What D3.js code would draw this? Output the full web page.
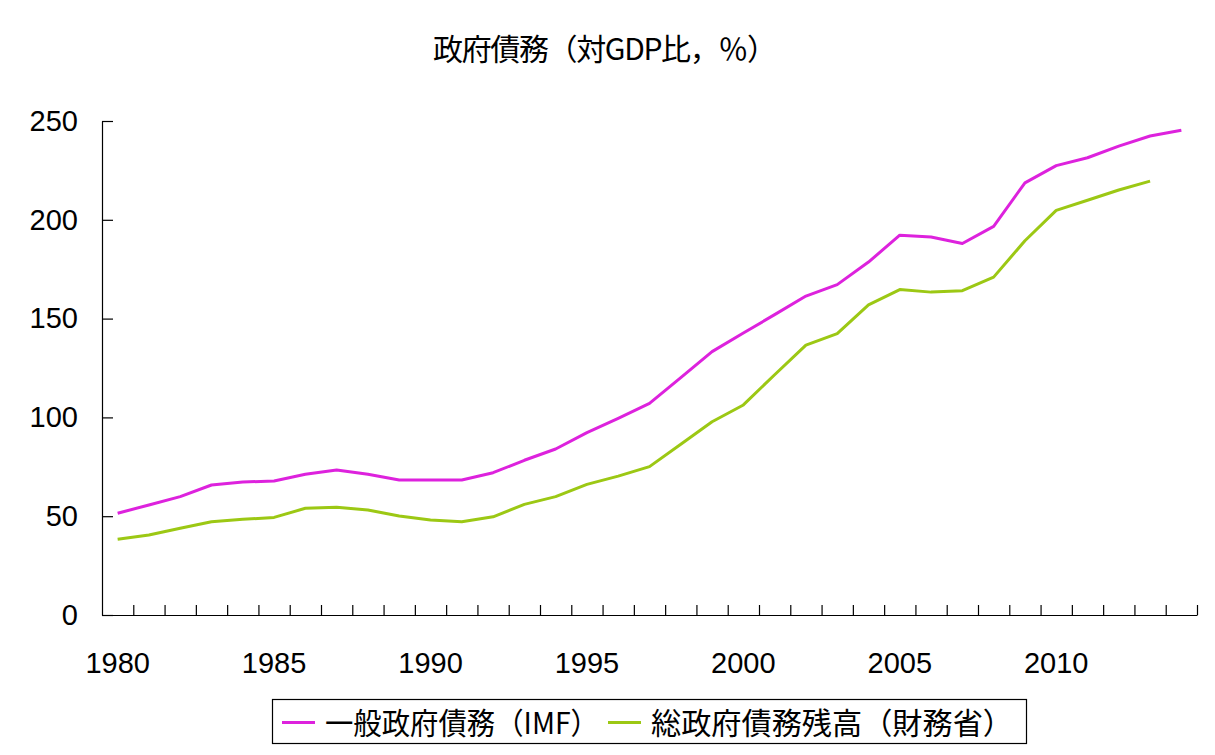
<!DOCTYPE html>
<html>
<head>
<meta charset="utf-8">
<script src="https://cdn.jsdelivr.net/npm/d3@7"></script>
<style>
  html, body { margin: 0; padding: 0; background: white; }
</style>
</head>
<body>
<div id="chart"></div>
<script>
const years = d3.range(1980, 2015);
const imfDebt = [51.5, 55.7, 59.9, 65.8, 67.3, 67.8, 71.2, 73.4, 71.2, 68.3,
  68.3, 68.3, 72.0, 78.3, 84.0, 92.3, 99.5, 107.1, 120.1, 133.3,
  142.7, 152.0, 161.4, 167.2, 178.6, 192.2, 191.3, 188.0, 196.7, 218.7,
  227.4, 231.4, 237.3, 242.4, 245.3];
const mofDebt = [38.3, 40.5, 43.9, 47.2, 48.4, 49.4, 54.0, 54.5, 53.1, 50.1,
  48.1, 47.2, 49.7, 56.0, 59.9, 66.1, 70.3, 75.1, 86.4, 97.8,
  106.3, 121.6, 136.6, 142.4, 156.9, 164.7, 163.4, 164.1, 171.0, 189.4,
  204.8, 209.9, 215.1, 219.6, null];
const yearLabels = [1980, 1985, 1990, 1995, 2000, 2005, 2010];
const yTicks = [0, 50, 100, 150, 200, 250];
const seriesNames = ['一般政府債務（IMF）', '総政府債務残高（財務省）'];
const seriesColors = ['#dd22dd', '#9cc814'];
const title = '政府債務（対GDP比，％）';

const width = 1215, height = 755;
const margin = { left: 102, right: 18, top: 121, bottom: 140 };
const jpFont = '"Noto Sans CJK JP", sans-serif';
const numFont = '"Liberation Sans", Arial, sans-serif';

const svg = d3.select('#chart')
  .append('svg')
  .attr('width', width)
  .attr('height', height)
  .style('background-color', 'white');

const x = d3.scaleBand()
  .domain(years)
  .range([margin.left, width - margin.right])
  .padding(0);

// boundaries between categories, for the excel style ticks
const xEdge = d3.scaleLinear()
  .domain([0, years.length])
  .range([margin.left, width - margin.right]);

const y = d3.scaleLinear()
  .domain([0, 250])
  .range([height - margin.bottom, margin.top]);

svg.append('text')
  .attr('x', 433)
  .attr('y', 47)
  .attr('dominant-baseline', 'central')
  .attr('textLength', 344)
  .attr('lengthAdjust', 'spacing')
  .style('font-family', jpFont)
  .style('font-size', '30px')
  .text(title);

// y axis
const yAxis = svg.append('g')
  .attr('transform', `translate(${margin.left},0)`)
  .call(d3.axisLeft(y).tickValues(yTicks).tickSize(-11).tickPadding(24).tickSizeOuter(0));
yAxis.selectAll('text')
  .style('font-family', numFont)
  .style('font-size', '29px')
  .attr('fill', 'black');

// x axis: ticks between years
svg.append('g')
  .attr('transform', `translate(0,${y(0)})`)
  .call(d3.axisBottom(xEdge).tickValues(d3.range(1, years.length + 1)).tickSize(-10).tickFormat('').tickSizeOuter(0));

// x axis labels under every 5th year
const xLabels = svg.append('g')
  .attr('transform', `translate(0,${y(0)})`)
  .call(d3.axisBottom(x).tickValues(yearLabels).tickSize(0).tickPadding(37));
xLabels.select('.domain').remove();
xLabels.selectAll('text')
  .style('font-family', numFont)
  .style('font-size', '29px')
  .attr('fill', 'black');

svg.selectAll('.domain, .tick line')
  .attr('stroke', 'black')
  .attr('stroke-width', 1.2);

const line = d3.line()
  .defined(d => d.v != null)
  .x(d => x(d.year) + x.bandwidth() / 2)
  .y(d => y(d.v));

[imfDebt, mofDebt].forEach((vals, i) => {
  svg.append('path')
    .datum(years.map((yr, j) => ({ year: yr, v: vals[j] })))
    .attr('fill', 'none')
    .attr('stroke', seriesColors[i])
    .attr('stroke-width', 3)
    .attr('stroke-linejoin', 'round')
    .attr('d', line);
});

// legend
const legend = svg.append('g');
legend.append('rect')
  .attr('x', 272.5)
  .attr('y', 699.5)
  .attr('width', 754)
  .attr('height', 44)
  .attr('fill', 'white')
  .attr('stroke', 'black')
  .attr('stroke-width', 1.2);

const legendX = [282, 608];
const legendTextLen = [274, 362];
seriesNames.forEach((name, i) => {
  legend.append('line')
    .attr('x1', legendX[i])
    .attr('x2', legendX[i] + 33)
    .attr('y1', 722.5)
    .attr('y2', 722.5)
    .attr('stroke', seriesColors[i])
    .attr('stroke-width', 3);
  legend.append('text')
    .attr('x', legendX[i] + 43)
    .attr('y', 721)
    .attr('dominant-baseline', 'central')
    .attr('textLength', legendTextLen[i])
    .attr('lengthAdjust', 'spacingAndGlyphs')
    .style('font-family', jpFont)
    .style('font-size', '30px')
    .text(name);
});
</script>
</body>
</html>
